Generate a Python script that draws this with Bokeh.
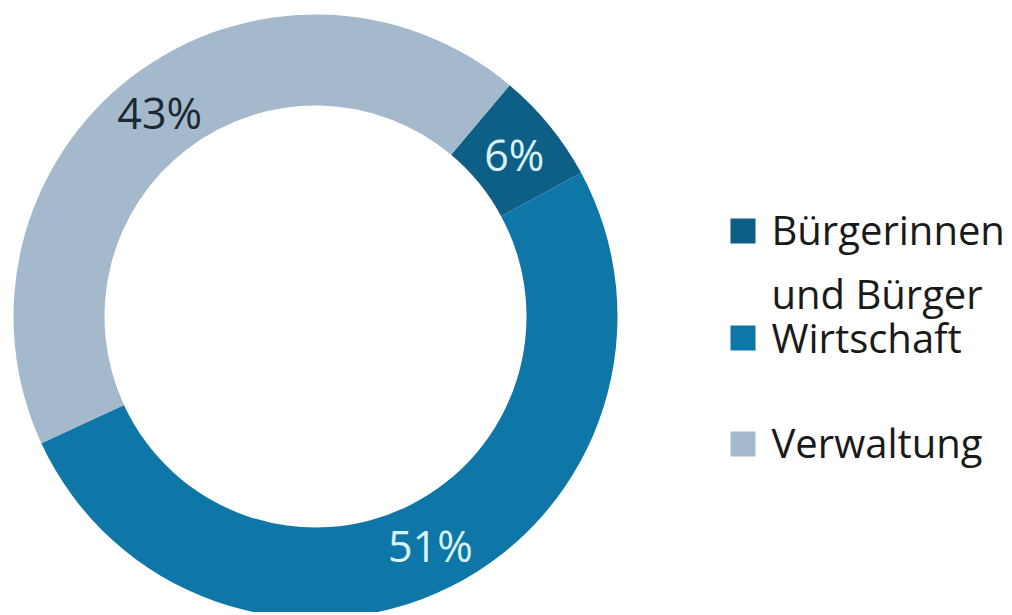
import numpy as np
from bokeh.plotting import figure
from bokeh.models import Range1d, ColumnDataSource
from bokeh.core.properties import value
from bokeh.embed import file_html
from bokeh.resources import INLINE

# ---- data ----
categories = ["Bürgerinnen und Bürger", "Wirtschaft", "Verwaltung"]
shares = [6, 51, 43]
labels = ["6%", "51%", "43%"]
legend_lines = [["Bürgerinnen", "und Bürger"], ["Wirtschaft"], ["Verwaltung"]]

# ---- style ----
colors = ["#0e5f86", "#0f77a8", "#a4b9cc"]
label_colors = ["#d8f4ff", "#d8f4ff", "#1c2833"]
FONT = "Open Sans"

W, H = 1010, 612
def sy(y):  # screen y -> data y
    return H - y

p = figure(width=W, height=H, output_backend="svg", toolbar_location=None,
           x_range=Range1d(0, W), y_range=Range1d(0, H),
           min_border=0)
p.axis.visible = False
p.grid.visible = False
p.outline_line_color = None
p.background_fill_color = "white"

cx, cy = 315, sy(316)
r_in, r_out = 211, 302
offset = 40.0  # degrees clockwise from top where first slice starts

vals = np.array(shares, dtype=float)
cum = np.concatenate([[0], np.cumsum(vals)]) / vals.sum() * 360.0
start_cw = offset + cum[:-1]
end_cw = offset + cum[1:]
start_math = np.deg2rad(90 - start_cw)
end_math = np.deg2rad(90 - end_cw)

src = ColumnDataSource(dict(start=start_math, end=end_math, color=colors))
p.annular_wedge(x=cx, y=cy, inner_radius=r_in, outer_radius=r_out,
                start_angle="start", end_angle="end", direction="clock",
                fill_color="color", line_color=None, source=src)

mid_cw = np.deg2rad((start_cw + end_cw) / 2)
rm = (r_in + r_out) / 2
lx = cx + rm * np.sin(mid_cw)
ly = cy + rm * np.cos(mid_cw)
p.text(x=lx, y=ly, text=labels, text_color=label_colors,
       text_font=value(FONT), text_font_size="43px",
       text_align="center", text_baseline="middle")

# ---- legend ----
sq_x = 742.5
sq_y = [230.5, 337.5, 443.5]
p.rect(x=[sq_x] * 3, y=[sy(v) for v in sq_y], width=25, height=25,
       fill_color=colors, line_color=None)

line_mids = [[229, 293], [336.5], [441.5]]
tx, ty, tt = [], [], []
for lines, mids in zip(legend_lines, line_mids):
    for t, m in zip(lines, mids):
        tx.append(771)
        ty.append(sy(m))
        tt.append(t)
p.text(x=tx, y=ty, text=tt, text_color="#1a1a1a",
       text_font=value(FONT), text_font_size="40px",
       text_align="left", text_baseline="middle")

open("out.html", "w").write(file_html(p, INLINE))
